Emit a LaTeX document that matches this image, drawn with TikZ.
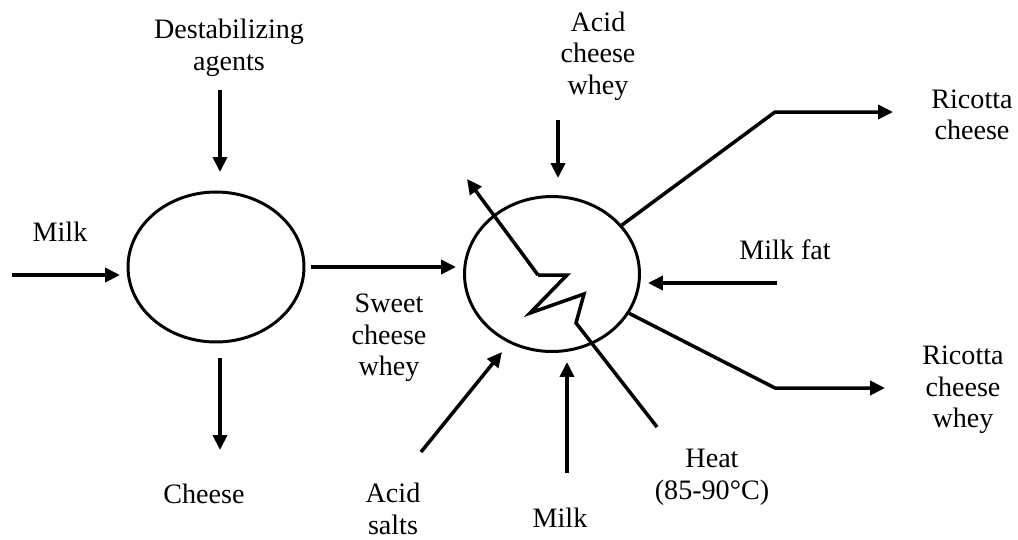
\documentclass[tikz,border=0pt]{standalone}
\usepackage{fontspec}
\setmainfont{Liberation Serif}
\usetikzlibrary{arrows.meta,shapes.geometric}

\begin{document}
\begin{tikzpicture}[x=0.02cm,y=-0.02cm,>={Triangle[length=8.5pt,width=8pt]},
  vessel/.style={draw,ellipse,line width=1.7pt,inner sep=0pt},
  flow/.style={->,line width=2pt},
  pipe/.style={line width=2pt,line join=miter},
  lbl/.style={align=center,font=\fontsize{16}{18}\selectfont,inner sep=0pt}]
\useasboundingbox (0,0) rectangle (1018,539);
% vessels
\node[vessel,minimum width=3.52cm,minimum height=3.0cm] (sep) at (216,267) {};
\node[vessel,minimum width=3.5cm,minimum height=3.1cm] (heat) at (552,274) {};
% labels
\node[lbl] (milkA) at (60,232) {Milk};
\node[lbl] (destab) at (229,48) {Destabilizing\\agents};
\node[lbl] (cheese) at (204,494) {Cheese};
\node[lbl] (sweet) at (389,338) {Sweet\\cheese\\whey};
\node[lbl] (salts) at (393,509) {Acid\\salts};
\node[lbl] (acidwhey) at (598,56) {Acid\\cheese\\whey};
\node[lbl] (milkB) at (560,518) {Milk};
\node[lbl] (heatlbl) at (712,477) {Heat\\(85-90°C)};
\node[lbl] (fat) at (785,250) {Milk fat};
\node[lbl] (ricotta) at (972,115) {Ricotta\\cheese};
\node[lbl] (rwhey) at (963,390) {Ricotta\\cheese\\whey};
% free ends
\coordinate (milkin) at (12,275);   \coordinate (milktip) at (120,275);
\coordinate (destabfrom) at (220,90); \coordinate (destabtip) at (220,172);
\coordinate (cheesefrom) at (220,358); \coordinate (cheesetip) at (220,450);
\coordinate (wheyfrom) at (311,267); \coordinate (wheytip) at (456,267);
\coordinate (saltsfrom) at (421,452); \coordinate (saltstip) at (502,352);
\coordinate (acidfrom) at (558,120); \coordinate (acidtip) at (558,178);
\coordinate (milkbfrom) at (567,473); \coordinate (milkbtip) at (567,362);
\coordinate (fatfrom) at (777,283); \coordinate (fattip) at (648,283);
\coordinate (rbend) at (775,112); \coordinate (rtip) at (893,112);
\coordinate (wbend) at (775,388); \coordinate (wtip) at (885,388);
\coordinate (steamtip) at (467,179);
% heating coil
\coordinate (z0) at (538,275); \coordinate (z1) at (567,275);
\coordinate (z2) at (530,313); \coordinate (z3) at (584,294);
\coordinate (z4) at (576,323); \coordinate (z5) at (657,427);
% streams
\draw[flow] (milkin) -- (milktip);
\draw[flow] (destabfrom) -- (destabtip);
\draw[flow] (cheesefrom) -- (cheesetip);
\draw[flow] (wheyfrom) -- (wheytip);
\draw[flow] (saltsfrom) -- (saltstip);
\draw[flow] (acidfrom) -- (acidtip);
\draw[flow] (milkbfrom) -- (milkbtip);
\draw[flow] (fatfrom) -- (fattip);
\draw[flow] (heat.35) -- (rbend) -- (rtip);
\draw[flow] (heat.-27) -- (wbend) -- (wtip);
\draw[flow] (z0) -- (steamtip);
\draw[pipe] (z0) -- (z1) -- (z2) -- (z3) -- (z4) -- (z5);
\end{tikzpicture}
\end{document}
